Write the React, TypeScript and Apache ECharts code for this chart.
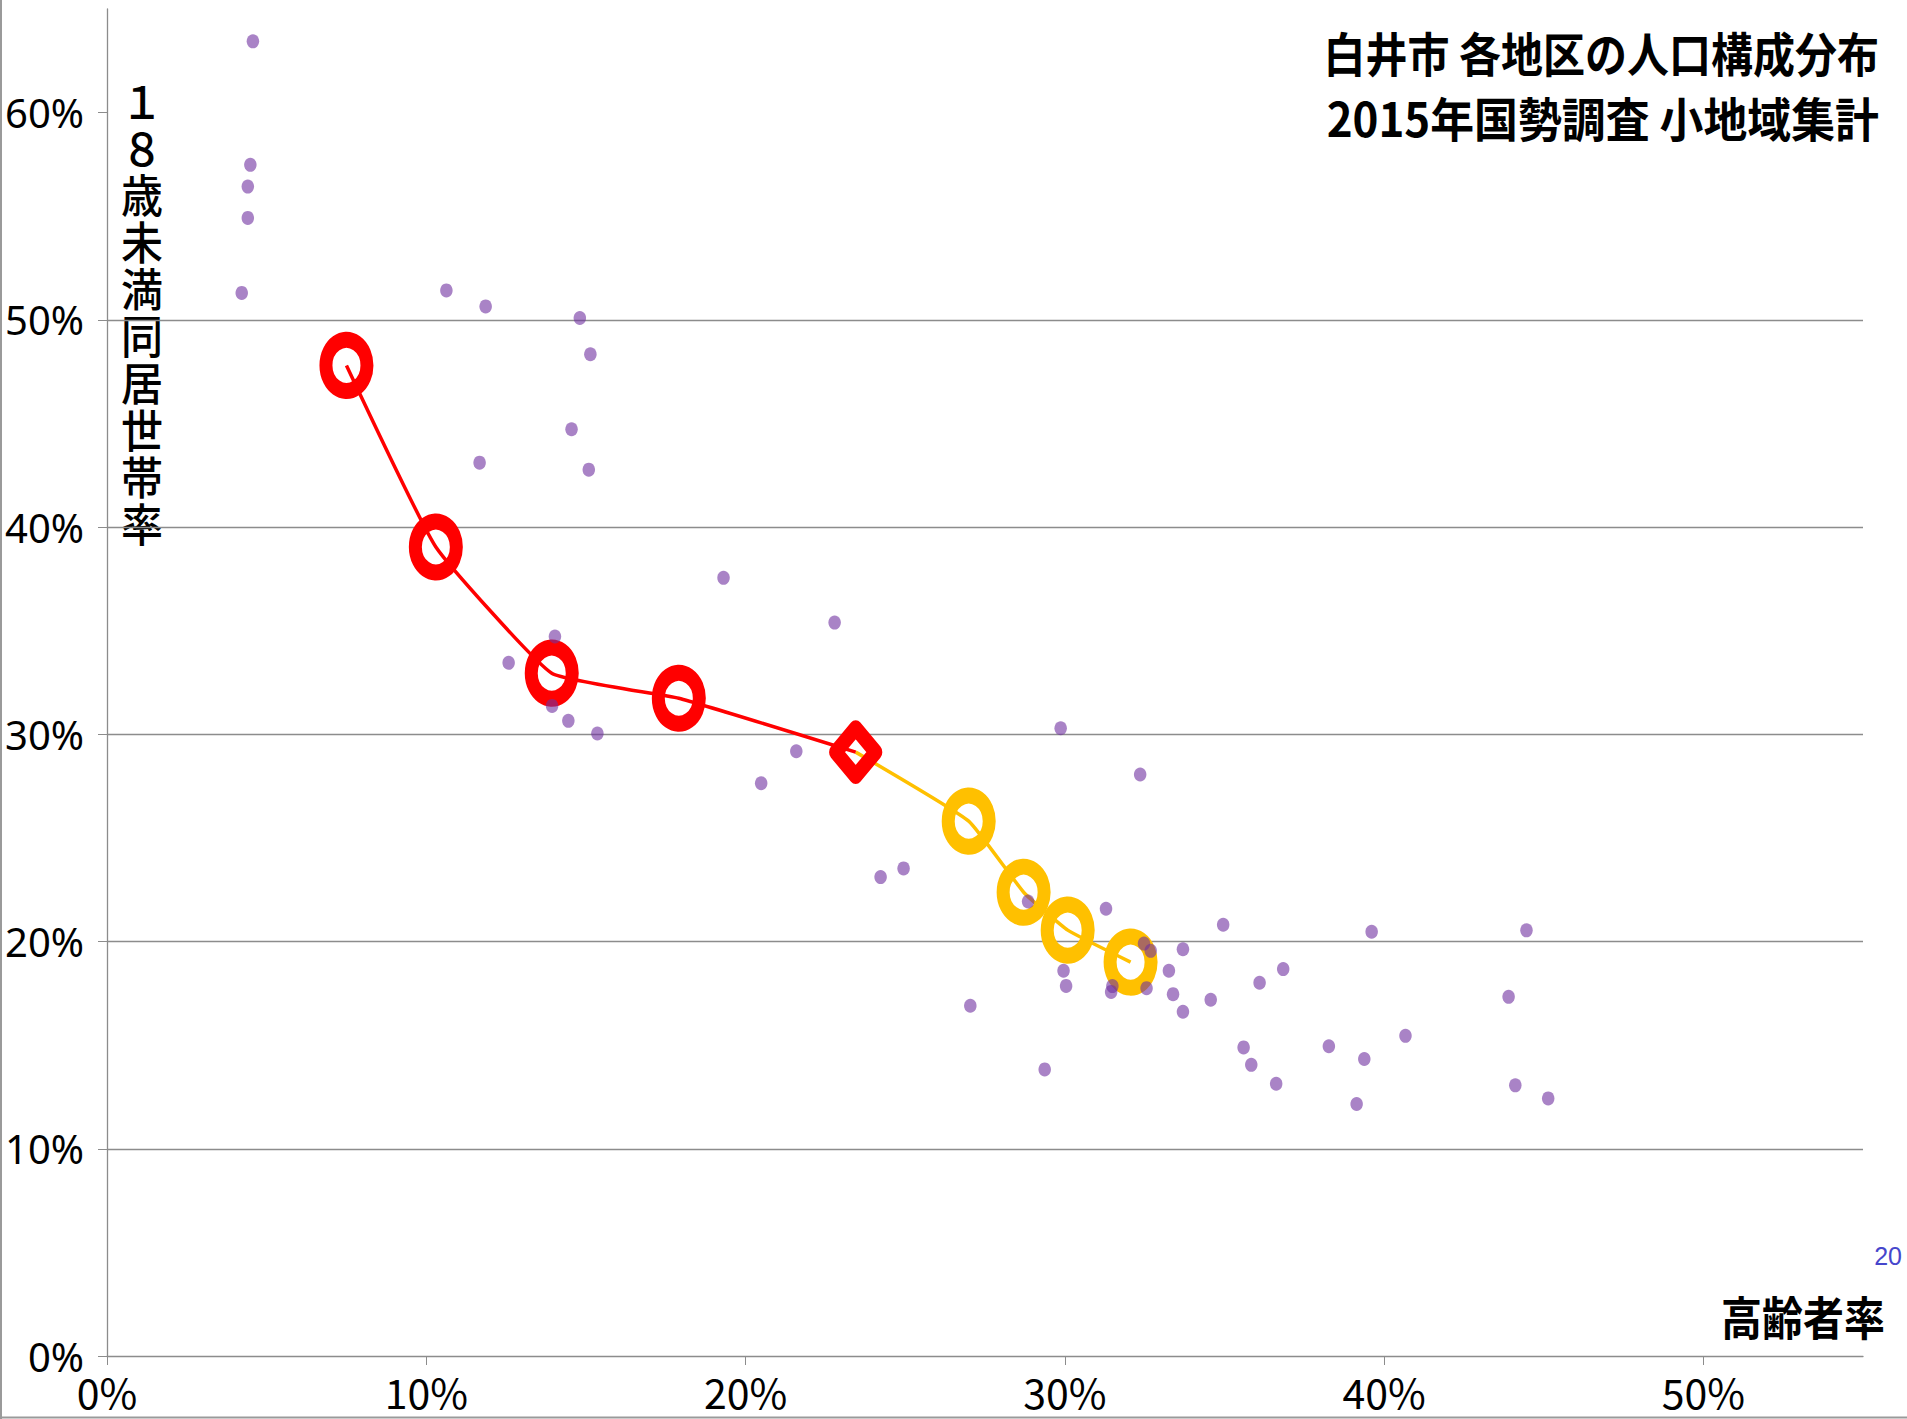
import React, { useEffect, useRef } from 'react';
import * as echarts from 'echarts';

// ---- texts ----
const TITLE_LINES = ['白井市 各地区の人口構成分布', '2015年国勢調査 小地域集計'];
const Y_TITLE = '１８歳未満同居世帯率';
const X_TITLE = '高齢者率';
const PAGE_NO = '20';

// ---- tick values (percent) ----
const X_TICKS = [0, 10, 20, 30, 40, 50];
const Y_TICKS = [0, 10, 20, 30, 40, 50, 60];

// ---- each district: aged ratio (x, %) and household-with-child ratio (y, %) ----
const districtAged = [
  4.57, 4.49, 4.41, 4.41, 4.22, 10.63, 11.86, 14.81, 15.14, 14.55,
  11.67, 15.09, 14.03, 12.58, 13.94, 14.45, 15.36, 19.31, 22.79, 21.59,
  20.49, 29.87, 32.36, 24.23, 24.95, 28.85, 31.29, 34.96, 32.48, 32.69,
  33.70, 33.26, 36.84, 36.10, 29.96, 30.04, 31.49, 31.45, 32.56, 33.39,
  33.70, 34.57, 27.04, 35.60, 35.84, 36.62, 38.27, 29.37, 39.61, 44.46,
  43.90, 40.67, 39.38, 39.14, 44.11, 45.14,
];
const districtChild = [
  63.44, 57.48, 56.43, 54.92, 51.30, 51.42, 50.65, 50.09, 48.34, 44.72,
  43.11, 42.77, 34.72, 33.45, 31.37, 30.65, 30.04, 37.55, 35.39, 29.18,
  27.64, 30.29, 28.06, 23.11, 23.53, 21.93, 21.58, 20.81, 19.90, 19.55,
  19.63, 18.59, 18.67, 18.01, 18.59, 17.86, 17.85, 17.57, 17.75, 17.46,
  16.61, 17.19, 16.90, 14.89, 14.05, 13.14, 14.95, 13.83, 20.47, 20.54,
  17.33, 15.45, 14.33, 12.16, 13.06, 12.43,
];

// ---- trend path (red part then orange part) ----
const redAged = [7.5, 10.3, 13.93, 17.91, 23.45];
const redChild = [47.8, 39.04, 32.95, 31.74, 29.14];
const redSymbols = ['circle', 'circle', 'circle', 'circle', 'diamond'];
const orangeAged = [23.45, 26.99, 28.71, 30.09, 32.06];
const orangeChild = [29.14, 25.81, 22.38, 20.55, 19.01];

const RED = '#FF0000';
const ORANGE = '#FFC000';
const GRID_GRAY = '#8c8c8c';
const CJK = '"Noto Sans CJK JP", "Noto Sans", sans-serif';

export default function App() {
  const ref = useRef<HTMLDivElement>(null);

  useEffect(() => {
    document.body.style.margin = '0';
    if (!ref.current) return;
    const chart = echarts.init(ref.current, null, { renderer: 'svg' });

    const ringSize = [41, 51];
    const diamondSize = [40, 48];
    const ringWidth = 14.5;

    const yTitleChars = Y_TITLE.split('').map((ch, i) => ({
      type: 'text',
      x: 142,
      y: 99 + i * 47,
      scaleY: 1.08,
      style: {
        text: ch,
        font: `500 42px ${CJK}`,
        fill: '#000',
        textAlign: 'center',
        textVerticalAlign: 'middle',
      },
    }));

    const option: any = {
      animation: false,
      backgroundColor: '#ffffff',
      grid: { left: 107, right: 44, top: 9, bottom: 63, containLabel: false },
      xAxis: {
        type: 'value',
        min: 0,
        max: 55,
        interval: 10,
        axisLine: { show: true, onZero: false, lineStyle: { color: GRID_GRAY, width: 1.3 } },
        axisTick: { show: true, length: 9, customValues: X_TICKS, lineStyle: { color: GRID_GRAY, width: 1 } },
        axisLabel: {
          customValues: X_TICKS,
          formatter: (v: number) => v + '%',
          fontSize: 41,
          fontFamily: CJK,
          color: '#000',
          margin: 14,
        },
        splitLine: { show: false },
      },
      yAxis: {
        type: 'value',
        min: 0,
        max: 65,
        interval: 10,
        axisLine: { show: true, onZero: false, lineStyle: { color: GRID_GRAY, width: 1.3 } },
        axisTick: { show: true, length: 9, customValues: Y_TICKS, lineStyle: { color: GRID_GRAY, width: 1 } },
        axisLabel: {
          customValues: Y_TICKS,
          formatter: (v: number) => v + '%',
          fontSize: 40,
          fontFamily: '"Noto Sans", sans-serif',
          color: '#000',
          margin: 23,
        },
        splitLine: { show: true, showMaxLine: false, showMinLine: false, lineStyle: { color: GRID_GRAY, width: 1.3 } },
      },
      series: [
        {
          type: 'line',
          z: 2,
          smooth: 0.12,
          showAllSymbol: true,
          data: orangeAged.map((x, i) => ({
            value: [x, orangeChild[i]],
            symbol: i === 0 ? 'none' : 'circle',
          })),
          symbolSize: ringSize,
          lineStyle: { color: ORANGE, width: 3.5 },
          itemStyle: { color: 'rgba(0,0,0,0)', borderColor: ORANGE, borderWidth: ringWidth },
          emphasis: { disabled: true },
        },
        {
          type: 'line',
          z: 3,
          smooth: 0.12,
          showAllSymbol: true,
          data: redAged.map((x, i) => ({
            value: [x, redChild[i]],
            symbol: redSymbols[i],
            symbolSize: redSymbols[i] === 'diamond' ? diamondSize : ringSize,
          })),
          lineStyle: { color: RED, width: 3.5 },
          itemStyle: { color: 'rgba(0,0,0,0)', borderColor: RED, borderWidth: ringWidth, borderJoin: 'round' },
          emphasis: { disabled: true },
        },
        {
          type: 'scatter',
          z: 4,
          symbol: 'circle',
          symbolSize: [12.5, 14],
          data: districtAged.map((x, i) => [x, districtChild[i]]),
          itemStyle: { color: '#7030A0', opacity: 0.6 },
          emphasis: { disabled: true },
        },
      ],
      graphic: [
        {
          type: 'text',
          x: 1879,
          y: 51,
          scaleY: 1.12,
          style: {
            text: TITLE_LINES[0],
            font: `bold 42px ${CJK}`,
            fill: '#000',
            textAlign: 'right',
            textVerticalAlign: 'middle',
          },
        },
        {
          type: 'text',
          x: 1879,
          y: 116,
          scaleX: 1.045,
          scaleY: 1.12,
          style: {
            text: TITLE_LINES[1],
            font: `bold 42px ${CJK}`,
            fill: '#000',
            textAlign: 'right',
            textVerticalAlign: 'middle',
          },
        },
        ...yTitleChars,
        {
          type: 'text',
          x: 1885,
          y: 1315,
          scaleY: 1.12,
          style: {
            text: X_TITLE,
            font: `bold 41px ${CJK}`,
            fill: '#000',
            textAlign: 'right',
            textVerticalAlign: 'middle',
          },
        },
        {
          type: 'text',
          x: 1902,
          y: 1256,
          style: {
            text: PAGE_NO,
            font: '25px "Liberation Sans", sans-serif',
            fill: '#4646cc',
            textAlign: 'right',
            textVerticalAlign: 'middle',
          },
        },
        {
          type: 'line',
          shape: { x1: 1, y1: 0, x2: 1, y2: 1419 },
          style: { stroke: '#9a9a9a', lineWidth: 2 },
        },
        {
          type: 'line',
          shape: { x1: 0, y1: 1417.5, x2: 1907, y2: 1417.5 },
          style: { stroke: '#9a9a9a', lineWidth: 2 },
        },
      ],
    };

    chart.setOption(option);
    return () => chart.dispose();
  }, []);

  return <div ref={ref} style={{ width: 1907, height: 1419 }} />;
}
